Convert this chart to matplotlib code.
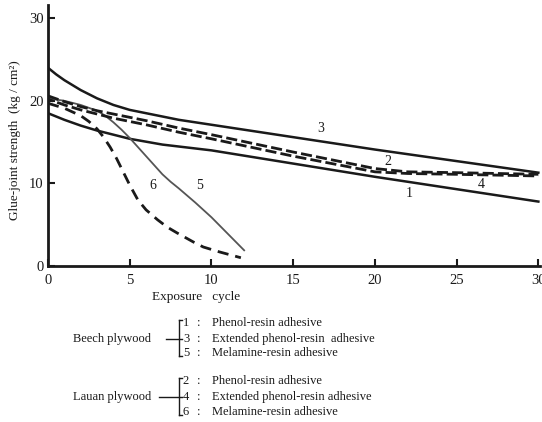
import matplotlib.pyplot as plt
from matplotlib.lines import Line2D

plt.rcParams['font.family'] = ['Liberation Serif', 'DejaVu Serif']

# ---- data ----
# 1: beech, phenol-resin
x1 = [0, 0.5, 1, 2, 3, 4, 5, 7, 10, 15, 20, 25, 30]
y1 = [18.5, 18.1, 17.7, 17.0, 16.4, 15.9, 15.4, 14.7, 14.0, 12.4, 10.8, 9.3, 7.8]
# 3: beech, extended phenol-resin
x3 = [0, 0.5, 1, 2, 3, 4, 5, 6, 8, 10, 15, 20, 25, 30]
y3 = [24.0, 23.2, 22.5, 21.3, 20.3, 19.5, 18.9, 18.5, 17.7, 17.1, 15.6, 14.1, 12.7, 11.3]
# 5: beech, melamine-resin
x5 = [0, 1, 2, 3, 3.5, 4, 4.5, 5, 5.5, 6, 6.5, 7, 7.5, 8, 9, 10, 11, 12]
y5 = [20.3, 20.0, 19.5, 18.8, 18.2, 17.4, 16.5, 15.5, 14.4, 13.3, 12.2, 11.1, 10.2, 9.4, 7.7, 5.9, 3.9, 1.9]
# 2: lauan, phenol-resin
x2 = [0, 1, 2, 3, 4, 6, 8, 10, 15, 20, 22, 25, 30]
y2 = [20.6, 19.9, 19.3, 18.8, 18.4, 17.6, 16.7, 15.9, 13.8, 11.8, 11.4, 11.3, 11.1]
# 4: lauan, extended phenol-resin
x4 = [0, 1, 2, 3, 4, 6, 8, 10, 15, 20, 22, 25, 30]
y4 = [20.2, 19.5, 18.9, 18.4, 17.9, 17.1, 16.2, 15.4, 13.3, 11.4, 11.2, 11.1, 10.9]
# 6: lauan, melamine-resin
x6 = [0, 1, 2, 2.5, 3, 3.4, 3.8, 4.2, 4.6, 5, 5.5, 6, 6.7, 7.3, 7.9, 8.9, 9.5, 10.5, 11.8]
y6 = [19.7, 19.1, 18.2, 17.5, 16.6, 15.6, 14.4, 13.0, 11.4, 9.8, 8.0, 6.8, 5.6, 4.7, 4.0, 2.9, 2.3, 1.7, 1.0]

curve_labels = ["1", "2", "3", "4", "5", "6"]
label_pos_x = [22.1, 20.8, 16.7, 26.5, 9.3, 6.4]
label_pos_y = [8.8, 12.6, 16.7, 9.9, 9.7, 9.7]

xticks = [0, 5, 10, 15, 20, 25, 30]
yticks = [0, 10, 20, 30]

W, H = 542, 422
fig = plt.figure(figsize=(W / 100, H / 100), dpi=100)
ax = fig.add_axes([48 / W, 1 - 266 / H, 492 / W, 261 / H])

ink = '#1a1a1a'
ax.plot(x1, y1, color=ink, lw=1.8)
ax.plot(x3, y3, color=ink, lw=1.8)
ax.plot(x5, y5, color='#555555', lw=1.3)
ax.plot(x2, y2, color=ink, lw=2.0, ls=(0, (4, 1.5)))
ax.plot(x4, y4, color=ink, lw=2.0, ls=(2, (4, 1.5)))
ax.plot(x6, y6, color=ink, lw=2.0, ls=(0, (4, 2.5)))

for t, lx, ly in zip(curve_labels, label_pos_x, label_pos_y):
    ax.text(lx, ly, t, fontsize=10, ha='center', va='center', color=ink)

ax.set_xlim(0, 30.1)
ax.set_ylim(0, 31.6)
ax.set_xticks(xticks)
ax.set_yticks(yticks)
ax.tick_params(direction='in', length=5, width=1.5, labelsize=10.5, colors=ink)
ax.tick_params(axis='x', pad=6)
ax.tick_params(axis='y', pad=3)
for s in ['top', 'right']:
    ax.spines[s].set_visible(False)
for s in ['left', 'bottom']:
    ax.spines[s].set_linewidth(2.0)
    ax.spines[s].set_color(ink)

fig.text(15 / W, 1 - 140 / H, "Glue-joint strength  (kg / cm²)", rotation=90,
         ha='center', va='center', fontsize=9.5, color=ink)
fig.text(196 / W, 1 - 297 / H, "Exposure   cycle", ha='center', va='center',
         fontsize=9.5, color=ink)

# ---- legend block ----
groups = ["Beech plywood", "Lauan plywood"]
group_rows = [[323, 339, 353], [381, 397, 412]]
group_nums = [["1", "3", "5"], ["2", "4", "6"]]
adhesives = ["Phenol-resin adhesive", "Extended phenol-resin  adhesive",
             "Melamine-resin adhesive"]
adhesives2 = ["Phenol-resin adhesive", "Extended phenol-resin adhesive",
              "Melamine-resin adhesive"]
line_start = [166, 159]

for g, name in enumerate(groups):
    rows = group_rows[g]
    texts = adhesives if g == 0 else adhesives2
    fig.text(73 / W, 1 - rows[1] / H, name, ha='left', va='center', fontsize=9, color=ink)
    for r, num, txt in zip(rows, group_nums[g], texts):
        fig.text(186 / W, 1 - r / H, num, ha='center', va='center', fontsize=9, color=ink)
        fig.text(199 / W, 1 - r / H, ":", ha='center', va='center', fontsize=9, color=ink)
        fig.text(212 / W, 1 - r / H, txt, ha='left', va='center', fontsize=9, color=ink)
    # bracket
    top, bot = rows[0] - 3, rows[2] + 3
    segs = [([179, 179], [top, bot]), ([179, 182], [top, top]), ([179, 182], [bot, bot]),
            ([line_start[g], 182], [rows[1], rows[1]])]
    for xs, ys in segs:
        fig.add_artist(Line2D([v / W for v in xs], [1 - v / H for v in ys],
                              color=ink, lw=1.0, transform=fig.transFigure))

fig.savefig("out.png", dpi=100)
